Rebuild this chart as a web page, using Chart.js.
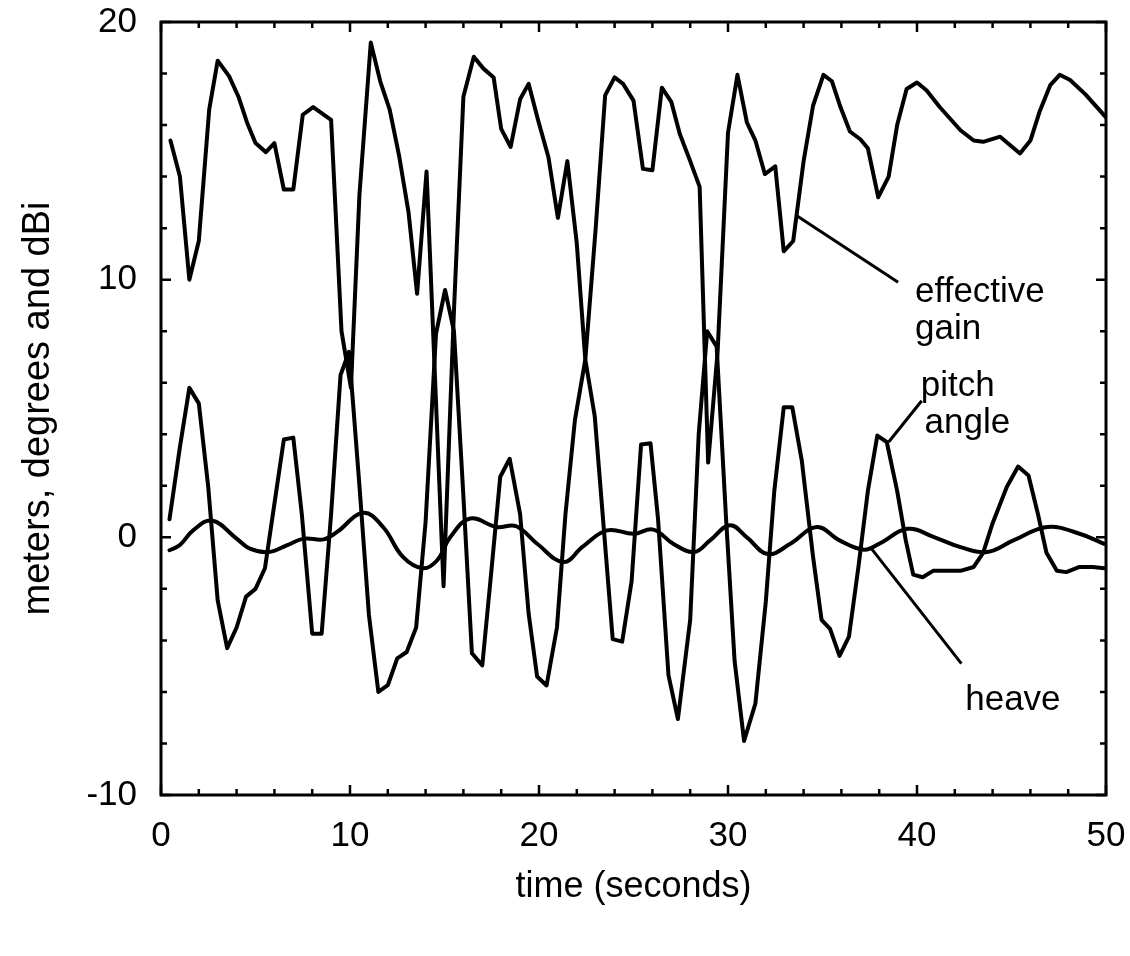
<!DOCTYPE html>
<html>
<head>
<meta charset="utf-8">
<script src="https://cdn.jsdelivr.net/npm/chart.js@4/dist/chart.umd.min.js"></script>
<style>
  html, body { margin: 0; padding: 0; background: #fff; }
  canvas { display: block; }
</style>
</head>
<body>
<canvas id="chart" width="1130" height="956"></canvas>
<script>
// effective gain (dBi) vs time (s)
const gainTime = [0.5, 1.0, 1.5, 2.0, 2.55, 3.0, 3.6, 4.1, 4.55, 5.0, 5.55, 6.0, 6.5, 7.0, 7.5, 8.05, 9.0, 9.55, 10.05, 10.5, 11.1,
  11.6, 12.1, 12.6, 13.1, 13.55, 14.05, 14.95, 15.5, 16.0, 16.55, 17.05, 17.6, 18.0, 18.5, 19.0, 19.45, 19.95, 20.5, 21.0, 21.5,
  22.0, 22.45, 23.0, 23.5, 24.0, 24.45, 25.0, 25.5, 26.0, 26.5, 27.0, 27.45, 28.0, 28.5, 28.95, 29.45, 30.0, 30.5, 31.0, 31.45,
  31.95, 32.5, 32.95, 33.45, 34.0, 34.5, 35.05, 35.5, 35.95, 36.45, 37.0, 37.4, 37.95, 38.5, 38.95, 39.45, 40.0, 40.5, 41.2,
  42.3, 43.0, 43.5, 44.4, 45.45, 46.0, 46.5, 47.05, 47.55, 48.1, 48.9, 50.0];
const gainValue = [15.4, 14.0, 10.0, 11.5, 16.6, 18.5, 17.9, 17.1, 16.1, 15.3, 14.95, 15.3, 13.5, 13.5, 16.4, 16.7, 16.2, 8.0, 5.8, 13.3, 19.2,
  17.7, 16.6, 14.8, 12.6, 9.45, 14.2, -1.9, 8.8, 17.1, 18.65, 18.2, 17.85, 15.85, 15.15, 17.0, 17.6, 16.2, 14.75, 12.4, 14.6,
  11.4, 6.9, 12.0, 17.15, 17.85, 17.6, 16.95, 14.3, 14.25, 17.45, 16.9, 15.65, 14.6, 13.6, 2.9, 7.2, 15.7, 17.95, 16.1, 15.4,
  14.1, 14.4, 11.1, 11.5, 14.6, 16.75, 17.95, 17.7, 16.7, 15.75, 15.45, 15.1, 13.2, 14.0, 16.0, 17.4, 17.65, 17.35, 16.7,
  15.8, 15.4, 15.35, 15.55, 14.9, 15.4, 16.55, 17.55, 17.95, 17.75, 17.2, 16.3];

// pitch angle (degrees) vs time (s)
const pitchTime = [0.45, 1.0, 1.5, 2.0, 2.5, 3.0, 3.5, 4.0, 4.5, 5.0, 5.5, 6.0, 6.5, 7.0, 7.45, 8.0, 8.5, 9.0, 9.5, 9.95, 10.5,
  11.0, 11.5, 12.0, 12.5, 13.0, 13.5, 14.0, 14.55, 15.03, 15.5, 16.0, 16.45, 17.0, 17.5, 17.95, 18.45, 19.0, 19.45, 19.9, 20.4,
  20.95, 21.4, 21.9, 22.45, 22.95, 23.9, 24.4, 24.9, 25.4, 25.9, 26.3, 26.85, 27.35, 28.0, 28.45, 28.9, 29.4, 29.9, 30.35, 30.85,
  31.45, 32.0, 32.45, 32.95, 33.4, 33.9, 34.5, 34.95, 35.4, 35.9, 36.4, 36.9, 37.4, 37.9, 38.4, 38.95, 39.4, 39.8, 40.3, 40.85,
  41.55, 42.3, 43.0, 43.5, 44.0, 44.75, 45.35, 45.9, 46.4, 46.85, 47.4, 47.9, 48.6, 49.3, 49.9];
const pitchValue = [0.7, 3.5, 5.8, 5.2, 1.95, -2.45, -4.3, -3.5, -2.3, -2.0, -1.2, 1.3, 3.8, 3.87, 0.9, -3.74, -3.74, 0.9, 6.3, 7.2, 2.0,
  -3.0, -6.0, -5.74, -4.7, -4.45, -3.5, 0.6, 7.9, 9.6, 8.0, 1.6, -4.5, -4.97, -1.15, 2.35, 3.05, 0.9, -2.95, -5.4, -5.75,
  -3.5, 0.9, 4.55, 6.9, 4.7, -3.95, -4.05, -1.7, 3.6, 3.65, 0.7, -5.35, -7.05, -3.2, 4.0, 8.0, 7.4, 0.7, -4.8, -7.9,
  -6.45, -2.5, 1.8, 5.05, 5.05, 3.0, -0.75, -3.2, -3.55, -4.6, -3.85, -1.15, 1.8, 3.95, 3.7, 1.8, -0.1, -1.45, -1.55, -1.3,
  -1.3, -1.3, -1.15, -0.6, 0.55, 1.95, 2.75, 2.4, 0.9, -0.6, -1.3, -1.35, -1.15, -1.15, -1.2];

// heave (meters) vs time (s)
const heaveTime = [0.45, 1.0, 1.7, 2.7, 4.0, 4.7, 5.7, 6.65, 7.55, 8.6, 9.3, 10.7, 11.75, 12.8, 13.85, 14.6, 15.3, 16.35, 17.75,
  18.8, 19.9, 21.3, 22.3, 23.6, 25.0, 26.05, 27.1, 28.2, 29.05, 30.1, 31.0, 32.1, 33.3, 34.7, 35.9, 37.2, 38.0, 39.5, 40.9,
  42.3, 43.7, 45.1, 46.9, 48.6, 49.9];
const heaveValue = [-0.5, -0.3, 0.27, 0.65, -0.05, -0.44, -0.57, -0.31, -0.05, -0.08, 0.2, 0.95, 0.4, -0.76, -1.2, -0.9, 0.0, 0.73, 0.4,
  0.43, -0.25, -0.96, -0.37, 0.27, 0.14, 0.3, -0.25, -0.57, -0.12, 0.47, 0.0, -0.65, -0.25, 0.4, -0.12, -0.48, -0.25, 0.33, 0.01,
  -0.38, -0.57, -0.12, 0.4, 0.14, -0.25];

const xTickLabels = [0, 10, 20, 30, 40, 50];
const yTickLabels = [-10, 0, 10, 20];

// curve labels and leader lines, in data units
const curveNotes = [
  { text: 'effective', x: 39.9, y: 9.15 },
  { text: 'gain', x: 39.9, y: 7.68 },
  { text: 'pitch', x: 40.2, y: 5.5 },
  { text: 'angle', x: 40.4, y: 4.05 },
  { text: 'heave', x: 42.55, y: -6.7 }
];
const leaders = [
  { x1: 33.6, y1: 12.5, x2: 39.0, y2: 9.9 },
  { x1: 40.25, y1: 5.3, x2: 38.5, y2: 3.7 },
  { x1: 37.6, y1: -0.45, x2: 42.35, y2: -4.9 }
];

const FONT = '"Liberation Sans", Arial, Helvetica, sans-serif';
Chart.defaults.font.family = FONT;
Chart.defaults.color = '#000';

const toPoints = (ts, vs) => ts.map((t, i) => ({ x: t, y: vs[i] }));

// box frame with inward ticks on all four sides, plus labels
const frameAndNotes = {
  id: 'frameAndNotes',
  afterDraw(chart) {
    const { ctx, chartArea: a, scales: { x, y } } = chart;
    ctx.save();
    ctx.strokeStyle = '#000';
    ctx.lineWidth = 3;
    ctx.strokeRect(a.left, a.top, a.right - a.left, a.bottom - a.top);

    ctx.lineWidth = 2.5;
    ctx.beginPath();
    for (let v = 0; v <= 50; v += 2) {
      const px = x.getPixelForValue(v);
      const len = v % 10 === 0 ? 10 : 6;
      ctx.moveTo(px, a.bottom); ctx.lineTo(px, a.bottom - len);
      ctx.moveTo(px, a.top); ctx.lineTo(px, a.top + len);
    }
    for (let v = -10; v <= 20; v += 2) {
      const py = y.getPixelForValue(v);
      const len = v % 10 === 0 ? 10 : 6;
      ctx.moveTo(a.left, py); ctx.lineTo(a.left + len, py);
      ctx.moveTo(a.right, py); ctx.lineTo(a.right - len, py);
    }
    ctx.stroke();

    ctx.lineWidth = 3;
    ctx.beginPath();
    leaders.forEach(l => {
      ctx.moveTo(x.getPixelForValue(l.x1), y.getPixelForValue(l.y1));
      ctx.lineTo(x.getPixelForValue(l.x2), y.getPixelForValue(l.y2));
    });
    ctx.stroke();

    ctx.fillStyle = '#000';
    ctx.font = '35px ' + FONT;
    ctx.textAlign = 'left';
    ctx.textBaseline = 'alphabetic';
    curveNotes.forEach(n => {
      ctx.fillText(n.text, x.getPixelForValue(n.x), y.getPixelForValue(n.y));
    });
    ctx.restore();
  }
};

const lineStyle = {
  borderColor: '#000',
  borderWidth: 4,
  pointRadius: 0,
  fill: false,
  borderJoinStyle: 'round',
  borderCapStyle: 'round'
};

new Chart(document.getElementById('chart'), {
  type: 'line',
  data: {
    datasets: [
      { label: 'effective gain', data: toPoints(gainTime, gainValue), tension: 0, ...lineStyle },
      { label: 'pitch angle', data: toPoints(pitchTime, pitchValue), tension: 0, ...lineStyle },
      { label: 'heave', data: toPoints(heaveTime, heaveValue), tension: 0.4, ...lineStyle }
    ]
  },
  options: {
    responsive: false,
    animation: false,
    devicePixelRatio: 1,
    layout: { padding: { top: 22, right: 24, left: 0, bottom: 0 } },
    plugins: { legend: { display: false }, tooltip: { enabled: false } },
    scales: {
      x: {
        type: 'linear',
        min: 0,
        max: 50,
        afterBuildTicks: s => { s.ticks = xTickLabels.map(v => ({ value: v })); },
        afterFit: s => { s.height = 161; s.paddingLeft = 0; s.paddingRight = 0; },
        ticks: { font: { size: 35 }, padding: 20, maxRotation: 0 },
        grid: { display: false, drawTicks: false },
        border: { display: false },
        title: { display: true, text: 'time (seconds)', font: { size: 36 }, padding: { bottom: 47 } }
      },
      y: {
        type: 'linear',
        min: -10,
        max: 20,
        afterBuildTicks: s => { s.ticks = yTickLabels.map(v => ({ value: v })); },
        afterFit: s => { s.width = 161; s.paddingTop = 0; s.paddingBottom = 0; },
        ticks: { font: { size: 35 }, padding: 24 },
        grid: { display: false, drawTicks: false },
        border: { display: false },
        title: { display: true, text: 'meters, degrees and dBi', font: { size: 38 }, padding: { top: 16 } }
      }
    }
  },
  plugins: [frameAndNotes]
});
</script>
</body>
</html>
